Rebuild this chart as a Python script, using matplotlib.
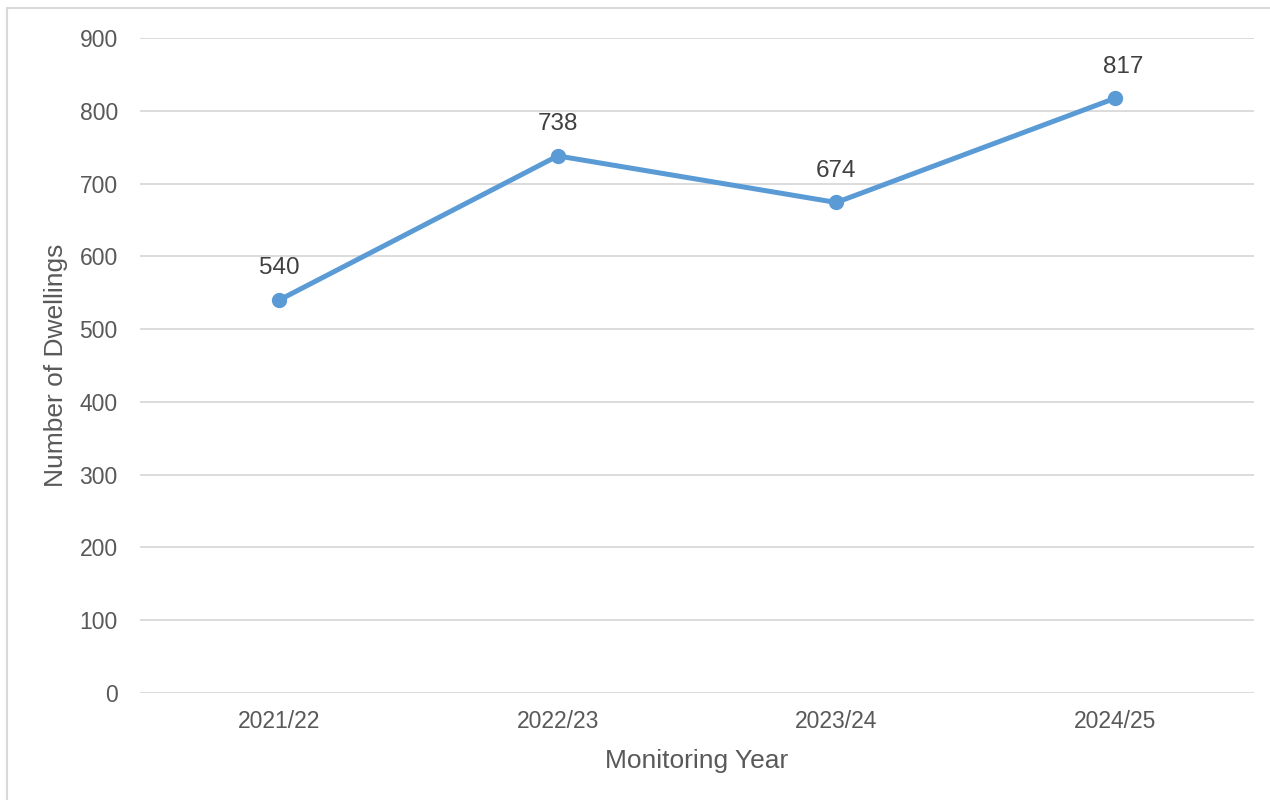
import matplotlib.pyplot as plt
from matplotlib.patches import Rectangle

plt.rcParams['font.family'] = ['Liberation Sans', 'DejaVu Sans']

# Dwellings monitored per year
years = ['2021/22', '2022/23', '2023/24', '2024/25']
dwellings = [540, 738, 674, 817]

fig = plt.figure(figsize=(12.7, 8), dpi=100)
ax = fig.add_axes([140 / 1270, 0.13375, 1114 / 1270, 0.81875])

# outer chart border
fig.patches.append(Rectangle((7 / 1270, -0.01), 1.02, 1 - 8 / 800 + 0.01,
                             transform=fig.transFigure, fill=False,
                             edgecolor='#d9d9d9', linewidth=1.5))

x = range(len(years))
ax.plot(x, dwellings, color='#5b9bd5', linewidth=3.6, marker='o',
        markersize=10, zorder=3)

# last label sits a little to the right of its point
label_dx = [0, 0, 0, 6]
for xi, v, dx in zip(x, dwellings, label_dx):
    ax.annotate(str(v), (xi, v), xytext=(dx, 15), textcoords='offset points',
                ha='center', va='bottom', fontsize=17.5, color='#404040')

ax.set_xlim(-0.5, 3.5)
ax.set_ylim(0, 900)
ax.set_yticks(range(0, 901, 100))
ax.set_xticks(list(x))
ax.set_xticklabels(years)
ax.grid(axis='y', color='#d9d9d9', linewidth=1.3)
ax.set_axisbelow(True)
for s in ax.spines.values():
    s.set_visible(False)
ax.tick_params(length=0, labelsize=16.5, labelcolor='#595959')
ax.tick_params(axis='y', pad=16)
ax.tick_params(axis='x', pad=12)

ax.set_xlabel('Monitoring Year', fontsize=19, color='#595959', labelpad=12)
ax.set_ylabel('Number of Dwellings', fontsize=19, color='#595959', labelpad=8)

fig.savefig('out.png', dpi=100)
